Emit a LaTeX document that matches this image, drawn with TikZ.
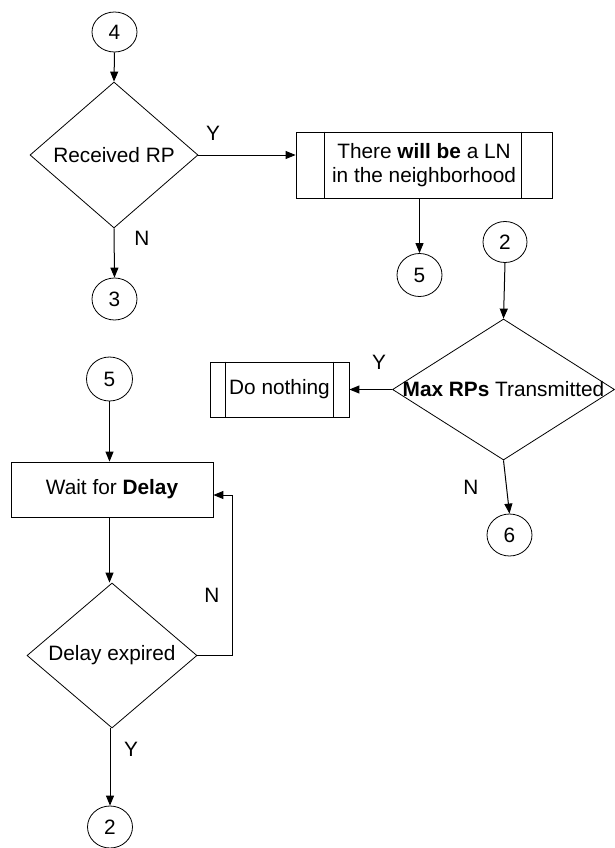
\documentclass[tikz,border=0pt]{standalone}
\usepackage{fontspec}
\setmainfont{Liberation Sans}
\usetikzlibrary{shapes.geometric,arrows.meta}
\begin{document}
\begin{tikzpicture}[x=1pt,y=-1pt,
  every node/.style={font=\fontsize{20.8}{23.5}\selectfont},
  conn/.style={draw,ellipse,inner sep=0pt,line width=0.8pt},
  dec/.style={draw,diamond,inner sep=0pt,line width=0.8pt},
  boxp/.style={draw,rectangle,inner sep=0pt,line width=0.8pt},
  arr/.style={line width=1pt,-{Triangle[length=10pt,width=8pt]}},
  lbl/.style={inner sep=0pt}
]
\useasboundingbox (0,0) rectangle (614,848);

% top-left
\node[conn,minimum width=45pt,minimum height=40pt] (c4) at (114.5,32) {4};
\node[dec,minimum width=168pt,minimum height=146pt,label=center:{Received RP}] (d1) at (114,155) {};
\node[conn,minimum width=45pt,minimum height=42pt] (c3) at (114.5,299) {3};
\node[boxp,minimum width=256pt,minimum height=66pt,align=center] (p1) at (424,165) {There \textbf{will be} a LN\\in the neighborhood};
\draw[line width=0.8pt] ([xshift=29pt]p1.north west) -- ([xshift=29pt]p1.south west);
\draw[line width=0.8pt] ([xshift=-31pt]p1.north east) -- ([xshift=-31pt]p1.south east);
\node[conn,minimum width=45pt,minimum height=43pt] (c5a) at (419.5,275) {5};

\draw[arr] (c4.south) -- (d1.north);
\draw[arr] (d1.south) -- (c3.north);
\draw[arr] (d1.east) -- (d1.east -| p1.west);
\draw[arr] (p1.south -| c5a.north) -- (c5a.north);
\node[lbl] (y1) at (213,133) {Y};
\node[lbl] (n1) at (142,238) {N};

% right
\node[conn,minimum width=44pt,minimum height=41pt] (c2a) at (505,242) {2};
\node[dec,minimum width=222pt,minimum height=141pt,label=center:{\textbf{Max RPs} Transmitted}] (d2) at (503.5,389.5) {};
\node[boxp,minimum width=139pt,minimum height=55pt] (p2) at (279.5,389.5) {Do nothing};
\draw[line width=0.8pt] ([xshift=16pt]p2.north west) -- ([xshift=16pt]p2.south west);
\draw[line width=0.8pt] ([xshift=-16pt]p2.north east) -- ([xshift=-16pt]p2.south east);
\node[conn,minimum width=45pt,minimum height=42pt] (c6) at (509.5,535) {6};

\draw[arr] (c2a.south) -- (d2.north);
\draw[arr] (d2.west) -- (p2.east);
\draw[arr] (d2.south) -- (c6.north);
\node[lbl] (y2) at (379,362) {Y};
\node[lbl] (n2) at (471,487) {N};

% left column
\node[conn,minimum width=46pt,minimum height=44pt] (c5b) at (109.5,379) {5};
\node[boxp,minimum width=202pt,minimum height=55pt] (w) at (112,489.5) {Wait for \textbf{Delay}};
\node[dec,minimum width=170pt,minimum height=145pt,label=center:{Delay expired}] (d3) at (112,655.5) {};
\node[conn,minimum width=45pt,minimum height=42pt] (c2b) at (110,827) {2};
\coordinate (fb) at (232,655.5);

\draw[arr] (c5b.south) -- (c5b.south |- w.north);
\draw[arr] (c5b.south |- w.south) -- (c5b.south |- d3.north);
\draw[arr] (d3.east) -- (fb) |- ([yshift=-5.5pt]w.east);
\draw[arr] (d3.south -| c2b.north) -- (c2b.north);
\node[lbl] (n3) at (212,595) {N};
\node[lbl] (y3) at (131,749) {Y};
\end{tikzpicture}
\end{document}
